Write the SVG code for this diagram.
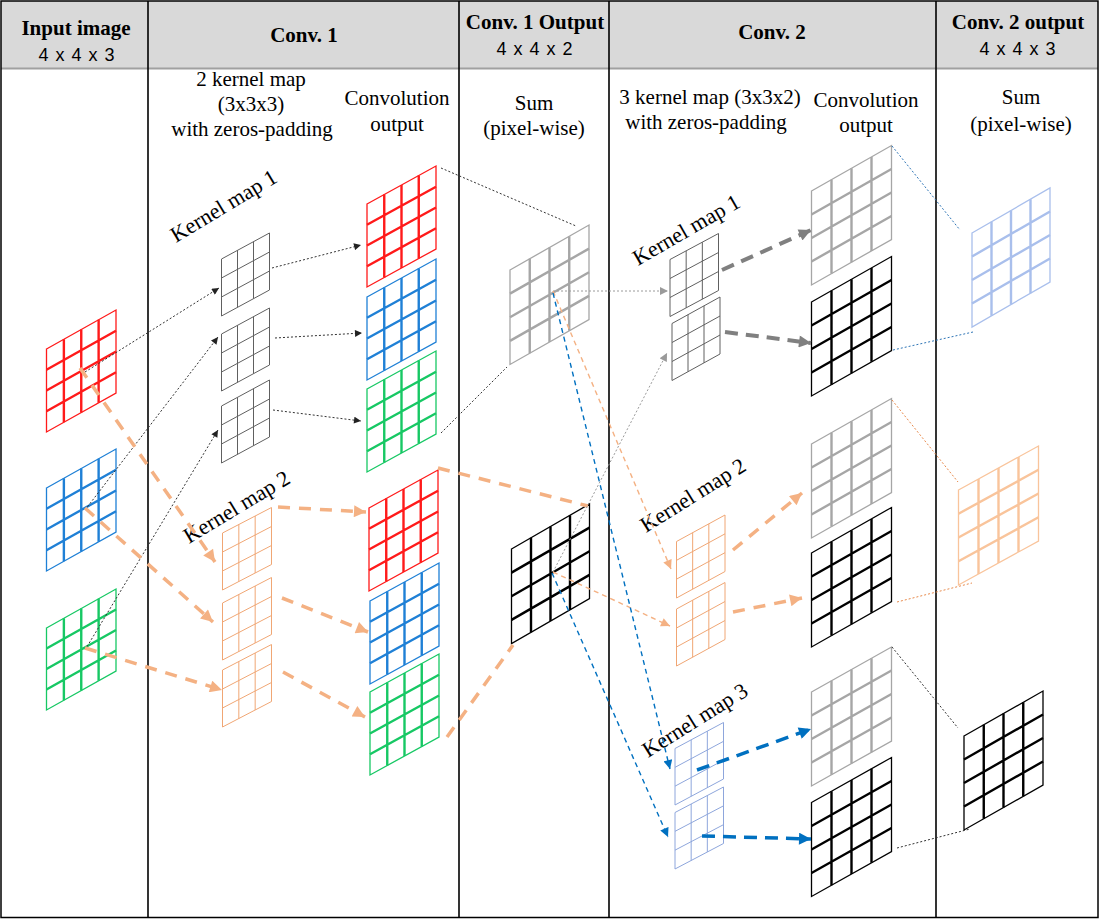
<svg xmlns="http://www.w3.org/2000/svg" xmlns:xlink="http://www.w3.org/1999/xlink" width="1100" height="919" viewBox="0 0 1100 919">
<style>
  .bd{fill:none;stroke-width:1.3;vector-effect:non-scaling-stroke}
  .in{fill:none;stroke-width:2.4;vector-effect:non-scaling-stroke}
  .k{fill:none;stroke-width:1;vector-effect:non-scaling-stroke}
  .red{stroke:#ff1a1a}.blu{stroke:#1f80d6}.grn{stroke:#17c864}.gry{stroke:#a6a6a6}.blk{stroke:#000}
  .lbl{stroke:#a9bfec}.lor{stroke:#f9c49b}
  .kg{stroke:#606060}.ko{stroke:#f0a674}.kb{stroke:#8ea6dc}
  .hd{font-weight:bold;font-size:21px;text-anchor:middle;fill:#000}
  .sub{font-size:18px;text-anchor:middle;fill:#000;letter-spacing:1px}
  .tx{font-size:21px;text-anchor:middle;fill:#000}
  .km{font-size:22px;fill:#000}
  .c{fill:none}
  .dk{stroke:#333;stroke-width:1;stroke-dasharray:2 2}
  .dg{stroke:#9a9a9a;stroke-width:1;stroke-dasharray:2 2}
  .db{stroke:#2e75b6;stroke-width:1;stroke-dasharray:2 2}
  .do{stroke:#e8894a;stroke-width:1;stroke-dasharray:2 2}
  .oT{stroke:#f4b183;stroke-width:3.5;stroke-dasharray:12 9}
  .ot{stroke:#f4b183;stroke-width:1.4;stroke-dasharray:5 4}
  .bt{stroke:#0070c0;stroke-width:1.4;stroke-dasharray:5 4}
  .gT{stroke:#808080;stroke-width:4;stroke-dasharray:13 8}
  .bT{stroke:#0070c0;stroke-width:3.5;stroke-dasharray:13 8}
</style>
<defs>
  <g id="G4">
    <path class="bd" d="M0,0H4V4H0Z"/>
    <path class="in" d="M1,0V4M2,0V4M3,0V4M0,1H4M0,2H4M0,3H4"/>
  </g>
  <g id="G3">
    <path class="k" d="M0,0H3V3H0Z"/>
    <path class="k" d="M1,0V3M2,0V3M0,1H3M0,2H3"/>
  </g>
  <marker id="ak" viewBox="0 0 10 10" refX="10" refY="5" markerWidth="8" markerHeight="7" markerUnits="userSpaceOnUse" orient="auto"><path d="M0,0L10,5L0,10z" fill="#222"/></marker>
  <marker id="ag" viewBox="0 0 10 10" refX="10" refY="5" markerWidth="9" markerHeight="8" markerUnits="userSpaceOnUse" orient="auto"><path d="M0,0L10,5L0,10z" fill="#9a9a9a"/></marker>
  <marker id="ao" viewBox="0 0 10 10" refX="10" refY="5" markerWidth="10" markerHeight="9" markerUnits="userSpaceOnUse" orient="auto"><path d="M0,0L10,5L0,10z" fill="#f4b183"/></marker>
  <marker id="ab" viewBox="0 0 10 10" refX="10" refY="5" markerWidth="10" markerHeight="9" markerUnits="userSpaceOnUse" orient="auto"><path d="M0,0L10,5L0,10z" fill="#0070c0"/></marker>
  <marker id="aO" viewBox="0 0 10 10" refX="10" refY="5" markerWidth="14" markerHeight="12" markerUnits="userSpaceOnUse" orient="auto"><path d="M0,0L10,5L0,10z" fill="#f4b183"/></marker>
  <marker id="aG" viewBox="0 0 10 10" refX="10" refY="5" markerWidth="14" markerHeight="12" markerUnits="userSpaceOnUse" orient="auto"><path d="M0,0L10,5L0,10z" fill="#808080"/></marker>
  <marker id="aB" viewBox="0 0 10 10" refX="10" refY="5" markerWidth="14" markerHeight="12" markerUnits="userSpaceOnUse" orient="auto"><path d="M0,0L10,5L0,10z" fill="#0070c0"/></marker>
</defs>
<rect width="1100" height="919" fill="#fff"/>
<g id="frame">
  <rect x="1" y="1" width="1097" height="67" fill="#d9d9d9"/>
  <line x1="1" y1="68.5" x2="1098" y2="68.5" stroke="#a0a0a0" stroke-width="2"/>
  <rect x="1" y="1" width="1097" height="916.5" fill="none" stroke="#000" stroke-width="1.5"/>
  <g stroke="#000" stroke-width="1.6">
    <line x1="148" y1="1" x2="148" y2="918"/>
    <line x1="459" y1="1" x2="459" y2="918"/>
    <line x1="609" y1="1" x2="609" y2="918"/>
    <line x1="936" y1="1" x2="936" y2="918"/>
  </g>
</g>
<g id="headers" font-family="Liberation Serif, DejaVu Serif, serif">
  <text class="hd" x="76" y="35">Input image</text>
  <text class="sub" x="77" y="61" font-family="Liberation Sans, Arial, sans-serif">4 x 4 x 3</text>
  <text class="hd" x="304" y="42">Conv. 1</text>
  <text class="hd" x="535" y="29">Conv. 1 Output</text>
  <text class="sub" x="535" y="55" font-family="Liberation Sans, Arial, sans-serif">4 x 4 x 2</text>
  <text class="hd" x="772" y="39">Conv. 2</text>
  <text class="hd" x="1018" y="29">Conv. 2 output</text>
  <text class="sub" x="1018" y="55" font-family="Liberation Sans, Arial, sans-serif">4 x 4 x 3</text>
</g>
<g id="labels" font-family="Liberation Serif, DejaVu Serif, serif">
  <text class="tx" x="251" y="86">2 kernel map</text>
  <text class="tx" x="251" y="111">(3x3x3)</text>
  <text class="tx" x="252" y="136">with zeros-padding</text>
  <text class="tx" x="397" y="105">Convolution</text>
  <text class="tx" x="397" y="131">output</text>
  <text class="tx" x="534" y="110">Sum</text>
  <text class="tx" x="534" y="135">(pixel-wise)</text>
  <text class="tx" x="710" y="104">3 kernel map (3x3x2)</text>
  <text class="tx" x="706" y="129">with zeros-padding</text>
  <text class="tx" x="866" y="107">Convolution</text>
  <text class="tx" x="866" y="132">output</text>
  <text class="tx" x="1021" y="104">Sum</text>
  <text class="tx" x="1021" y="131">(pixel-wise)</text>
  <text class="km" transform="translate(176,243) rotate(-31)">Kernel map 1</text>
  <text class="km" transform="translate(189,544) rotate(-31)">Kernel map 2</text>
  <text class="km" transform="translate(638,266) rotate(-30)">Kernel map 1</text>
  <text class="km" transform="translate(646,533) rotate(-32)">Kernel map 2</text>
  <text class="km" transform="translate(648,758) rotate(-32)">Kernel map 3</text>
</g>
<g id="input-image">
  <use href="#G4" class="red" transform="matrix(17.375,-9.75,0,20.75,46.5,349)"/>
  <use href="#G4" class="blu" transform="matrix(17.375,-9.75,0,20.75,46.5,488)"/>
  <use href="#G4" class="grn" transform="matrix(17.375,-9.75,0,20.5,46.5,628)"/>
</g>
<g id="conv1-kernel-map-1">
  <use href="#G3" class="kg" transform="matrix(16,-8.667,0,19,221.5,259)"/>
  <use href="#G3" class="kg" transform="matrix(16,-8.667,0,19,221.5,334)"/>
  <use href="#G3" class="kg" transform="matrix(16,-8.667,0,19,221.5,406)"/>
</g>
<g id="conv1-kernel-map-2">
  <use href="#G3" class="ko" transform="matrix(16.333,-8.5,0,19,222.5,533)"/>
  <use href="#G3" class="ko" transform="matrix(16.333,-8.5,0,19,222.5,603)"/>
  <use href="#G3" class="ko" transform="matrix(16.333,-8.5,0,19,222.5,670)"/>
</g>
<g id="conv1-output-1">
  <use href="#G4" class="red" transform="matrix(17.25,-9.5,0,20.75,367,204)"/>
  <use href="#G4" class="blu" transform="matrix(17.25,-9.5,0,20.75,367,297)"/>
  <use href="#G4" class="grn" transform="matrix(17.25,-9.5,0,20.75,367,389)"/>
</g>
<g id="conv1-output-2">
  <use href="#G4" class="red" transform="matrix(17.25,-9.5,0,20.75,369,508)"/>
  <use href="#G4" class="blu" transform="matrix(17.25,-9.5,0,20.75,370,601)"/>
  <use href="#G4" class="grn" transform="matrix(17.25,-9.5,0,20.75,370,692)"/>
</g>
<g id="sum1">
  <use href="#G4" class="gry" transform="matrix(19.75,-11.25,0,23.625,510,270)"/>
  <use href="#G4" class="blk" transform="matrix(19.5,-11.25,0,23.625,511.5,549)"/>
</g>
<g id="conv2-kernel-map-1">
  <use href="#G3" class="kg" transform="matrix(16.167,-8.667,0,19,670,259.5)"/>
  <use href="#G3" class="kg" transform="matrix(16,-8.833,0,19,672,323.5)"/>
</g>
<g id="conv2-kernel-map-2">
  <use href="#G3" class="ko" transform="matrix(16.167,-8.833,0,18.833,676.5,541.5)"/>
  <use href="#G3" class="ko" transform="matrix(16.167,-8.833,0,19,676.5,609)"/>
</g>
<g id="conv2-kernel-map-3">
  <use href="#G3" class="kb" transform="matrix(16.167,-8.667,0,18.833,675,748.5)"/>
  <use href="#G3" class="kb" transform="matrix(16.167,-8.5,0,18.833,675,812.5)"/>
</g>
<g id="conv2-output">
  <use href="#G4" class="gry" transform="matrix(20,-11.375,0,23.5,811.5,191)"/>
  <use href="#G4" class="blk" transform="matrix(20,-11.375,0,23.5,811.5,302)"/>
  <use href="#G4" class="gry" transform="matrix(20,-11.375,0,23.5,811.5,444)"/>
  <use href="#G4" class="blk" transform="matrix(20,-11.375,0,23.5,811.5,553)"/>
  <use href="#G4" class="gry" transform="matrix(20,-11.25,0,23.5,811.5,692)"/>
  <use href="#G4" class="blk" transform="matrix(20,-11.25,0,23.5,811.5,802.5)"/>
</g>
<g id="sum2">
  <use href="#G4" class="lbl" transform="matrix(19.5,-11.25,0,23.5,972,233)"/>
  <use href="#G4" class="lor" transform="matrix(20,-11,0,23.75,958.5,490)"/>
  <use href="#G4" class="blk" transform="matrix(19.75,-11.25,0,23.5,964,736)"/>
</g>
<g id="connectors" class="c">
  <path class="dk" marker-end="url(#ak)" d="M85,372L219,288"/>
  <path class="dk" marker-end="url(#ak)" d="M85,510L218,337"/>
  <path class="dk" marker-end="url(#ak)" d="M85,650L218,430"/>
  <path class="dk" marker-end="url(#ak)" d="M272,268L361,245"/>
  <path class="dk" marker-end="url(#ak)" d="M275,338L362,333"/>
  <path class="dk" marker-end="url(#ak)" d="M273,410L361,421"/>
  <path class="dk" d="M441,168L576,226"/>
  <path class="dk" d="M441,433L507,367"/>
  <path class="oT" marker-end="url(#aO)" d="M80,368L215,562"/>
  <path class="oT" marker-end="url(#aO)" d="M85,508L213,622"/>
  <path class="oT" marker-end="url(#aO)" d="M85,648L222,690"/>
  <path class="oT" marker-end="url(#aO)" d="M278,507L366,512"/>
  <path class="oT" marker-end="url(#aO)" d="M282,598L368,632"/>
  <path class="oT" marker-end="url(#aO)" d="M283,672L365,717"/>
  <path class="oT" d="M438,468L588,506"/>
  <path class="oT" d="M447,737L513,645"/>
  <path class="dg" marker-end="url(#ag)" d="M553,291L668,291"/>
  <path class="dg" marker-end="url(#ag)" d="M553,572L667,353"/>
  <path class="ot" marker-end="url(#ao)" d="M553,291L671,569"/>
  <path class="ot" marker-end="url(#ao)" d="M553,572L670,626"/>
  <path class="bt" marker-end="url(#ab)" d="M553,293L670,769"/>
  <path class="bt" marker-end="url(#ab)" d="M552,573L668,837"/>
  <path class="gT" marker-end="url(#aG)" d="M722,270L811,230"/>
  <path class="gT" marker-end="url(#aG)" d="M725,332L811,343"/>
  <path class="oT" marker-end="url(#aO)" d="M733,550L802,493"/>
  <path class="oT" marker-end="url(#aO)" d="M733,612L802,598"/>
  <path class="bT" marker-end="url(#aB)" d="M697,770L811,729"/>
  <path class="bT" marker-end="url(#aB)" d="M702,836L811,839"/>
  <path class="db" d="M892,146L960,230"/>
  <path class="db" d="M893,350L973,332"/>
  <path class="do" d="M892,400L958,482"/>
  <path class="do" d="M897,602L972,583"/>
  <path class="dk" d="M892,647L958,728"/>
  <path class="dk" d="M897,848L970,829"/>
</g>
</svg>
